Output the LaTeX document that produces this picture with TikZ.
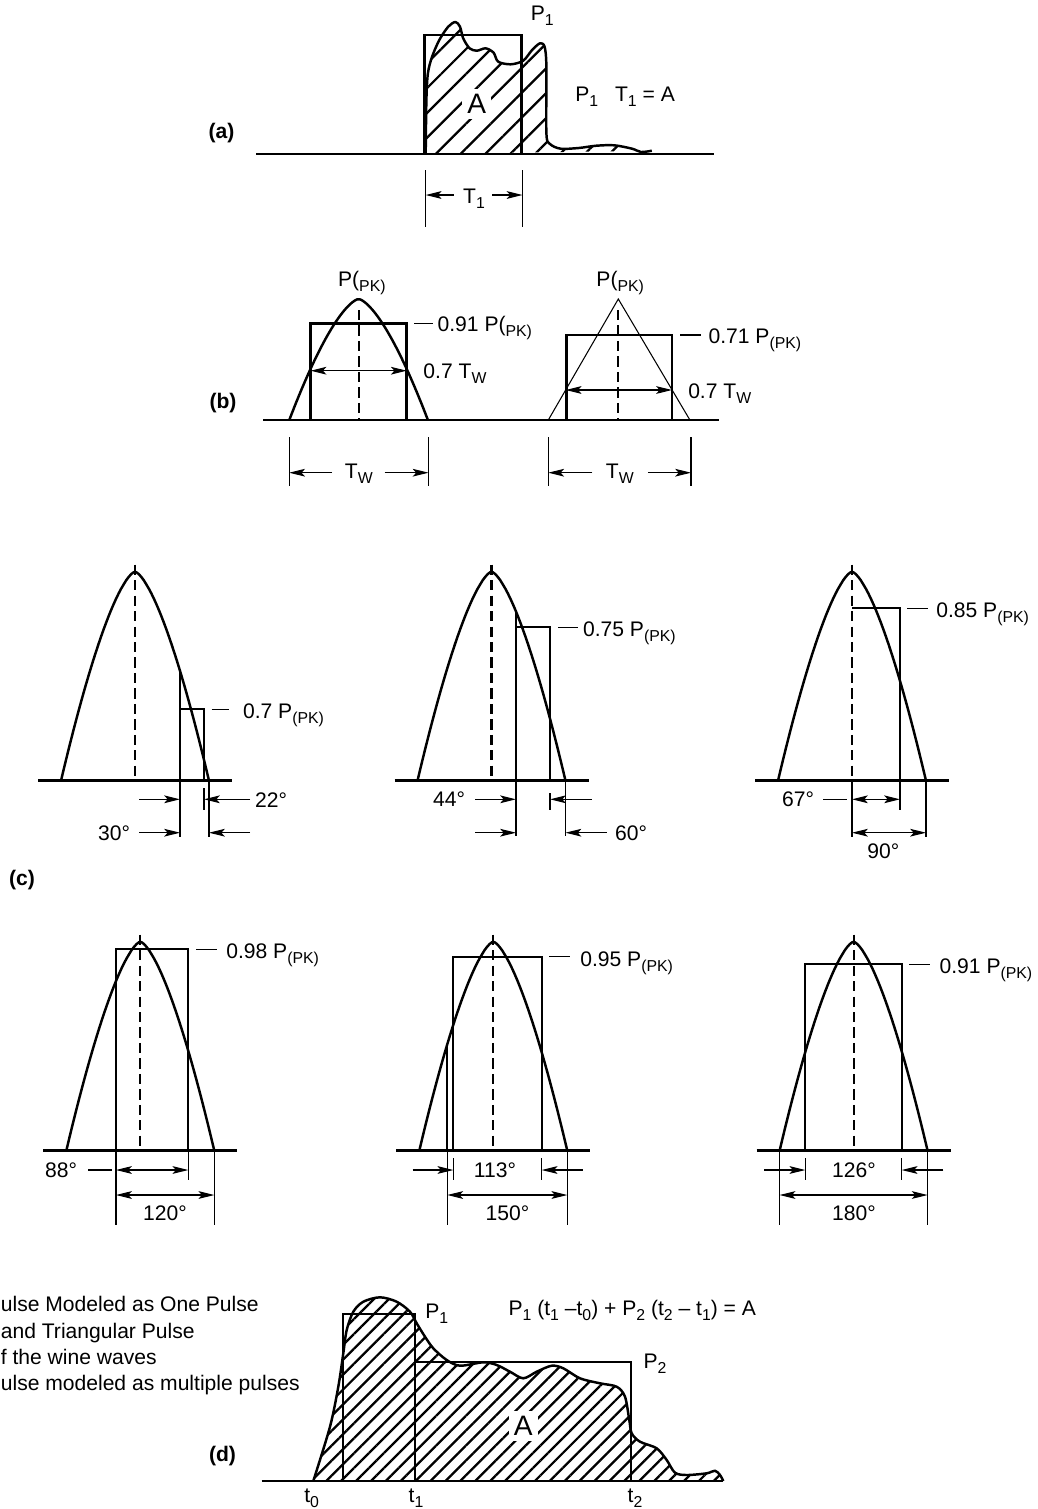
\documentclass[tikz,border=0pt]{standalone}
\usepackage{fontspec}
\setmainfont{Liberation Sans}
\usetikzlibrary{arrows.meta,patterns.meta}
\newcommand{\lo}[1]{\raisebox{-0.45ex}{\fontsize{9}{9}\selectfont #1}}

\begin{document}
\begin{tikzpicture}[x=0.02cm,y=-0.02cm,
    font=\fontsize{12}{14}\selectfont,
    >={Stealth[length=9pt,width=4.4pt,inset=2pt]},
    every node/.style={inner sep=0pt},
    axis/.style={line width=1.5pt},
    curve/.style={line width=1.4pt,line join=round},
    box/.style={line width=1pt},
    dim/.style={line width=0.6pt},
    centre/.style={line width=1.2pt,dash pattern=on 5.8pt off 3pt},
    hatch/.style={pattern={Lines[angle=45,distance=#1,line width=1.3pt]}},
    tag/.style={font=\fontsize{12}{14}\selectfont\bfseries},
    big/.style={font=\fontsize{16}{16}\selectfont,fill=white,inner sep=3pt}]
  \useasboundingbox (0,0) rectangle (1038,1509);

  % (a) one pulse and its equal-area rectangle
  \draw[curve,hatch=10pt] plot[smooth,tension=0.5] coordinates {(425.7,154) (426.4,100) (427.9,73.3) (432.1,56.7) (439.3,40) (448.2,26.7) (455.4,22) (460,26.7) (463.2,38.3) (469.6,48.3) (476.8,50.7) (485.7,48.3) (493.6,52.7) (498.2,61.7) (510.7,64.3) (523.2,60.7) (532.1,50) (540,43.3) (544.6,46.7) (546.4,66.7) (546.4,133.3) (550,144) (560.7,148.7) (578.6,148) (596.4,145.7) (614.3,145.3) (632.1,148.7) (641.1,152) (651.8,150.7)};
  \draw[axis] (256,154) -- (714.3,154);
  \draw[axis] (424.3,154) rectangle (521.4,35);
  \node[big] (areaA) at (476.8,104) {A};
  \node[tag] (tagA) at (221.4,133.3) {(a)};
  \node[anchor=base west] (peakA) at (530.4,20.7) {P\lo{1}};
  \node[anchor=base west] (eqA) at (575,101.7) {P\lo{1}\hspace{0.8em}T\lo{1} = A};
  \node[anchor=base] (widthA) at (474,203.3) {T\lo{1}};
  \draw[dim] (425.7,170) -- (425.7,226.7) (522.5,170) -- (522.5,226.7);
  \draw[dim,->] (453.6,195) -- (425.7,195);
  \draw[dim,->] (492,195) -- (522.5,195);

  % (b) parabolic and triangular pulse
  \draw[axis] (263.1,420) -- (718.6,420);
  \draw[curve] plot[domain=-1:1,samples=60] ({358.6+69.3*(\x)},{420-121*(1-abs(\x)^1.5)});
  \draw[axis] (310.6,420) rectangle (406.7,323.3);
  \draw[centre] (358.8,310) -- (358.8,420);
  \draw[dim,<->] (310.6,370.7) -- (406.7,370.7);
  \draw[dim] (414.3,323.3) -- (433.4,323.3);
  \node[anchor=base west] (pkL) at (337.8,286) {P(\lo{PK)}};
  \node[anchor=base west] (lvlL) at (437.3,331.7) {0.91 P(\lo{PK)}};
  \node[anchor=base west] (hwL) at (423.1,378.3) {0.7 T\lo{W}};
  \draw[line width=0.6pt] (548.3,420) -- (618.3,299) -- (689.9,420);
  \draw[axis] (566.2,420) rectangle (671.9,335);
  \draw[centre] (618.3,310) -- (618.3,420);
  \draw[dim,<->] (565.7,390) -- (671.9,390);
  \draw[dim] (680.3,335) -- (701.3,335);
  \node[anchor=base west] (pkR) at (596.1,286) {P(\lo{PK)}};
  \node[anchor=base west] (lvlR) at (708.2,343.3) {0.71 P\lo{(PK)}};
  \node[anchor=base west] (hwR) at (687.9,398.3) {0.7 T\lo{W}};
  \node[tag] (tagB) at (223,403.3) {(b)};
  \draw[dim] (289.2,437.3) -- (289.2,486) (428.5,437.3) -- (428.5,486) (548.3,437.3) -- (548.3,486) (691,437.3) -- (691,486);
  \node[anchor=base] (twL) at (358.8,478.3) {T\lo{W}};
  \node[anchor=base] (twR) at (619.8,478.3) {T\lo{W}};
  \draw[dim,->] (332,472.7) -- (289.2,472.7);
  \draw[dim,->] (384.5,472.7) -- (428.5,472.7);
  \draw[dim,->] (592.3,472.7) -- (548.3,472.7);
  \draw[dim,->] (647.8,472.7) -- (691,472.7);

  % (c) six sine pulses
  \foreach \c/\b in {135/780.7,491.5/780.7,852/780.7,140.3/1150.7,493.3/1150.7,853.6/1150.7}{
    \draw[axis] (\c-97,\b) -- (\c+97,\b);
    \draw[curve] plot[domain=-1:1,samples=60] ({\c+74*(\x)},{\b-209*(1-abs(\x)^1.5)});
    \draw[centre] (\c,\b-216) -- (\c,\b);
  }
  \node[tag] (tagC) at (22,880) {(c)};

  \draw[box] (180,670.8) -- (180,780.7);
  \draw[box] (180,709.3) -- (204,709.3) -- (204,780.7);
  \draw[dim] (211.7,709.3) -- (229.3,709.3);
  \node[anchor=base west] (lvlC1) at (242.7,718.8) {0.7 P\lo{(PK)}};
  \draw[dim] (180,780.7) -- (180,837) (204,788) -- (204,810) (209,780.7) -- (209,837);
  \draw[dim,->] (139.3,799.3) -- (180,799.3);
  \draw[dim,->] (250,799.3) -- (204,799.3);
  \draw[dim,->] (139.3,832.7) -- (180,832.7);
  \draw[dim,->] (250,832.7) -- (209,832.7);
  \node[anchor=base] (degC1a) at (271,807) {22°};
  \node[anchor=base] (degC1b) at (114,840) {30°};

  \draw[box] (516,611.5) -- (516,780.7);
  \draw[box] (516,627.3) -- (550,627.3) -- (550,780.7);
  \draw[dim] (558.3,627.3) -- (578.3,627.3);
  \node[anchor=base west] (lvlC2) at (582.7,636.8) {0.75 P\lo{(PK)}};
  \draw[dim] (516,780.7) -- (516,836) (550,793) -- (550,810) (565.5,780.7) -- (565.5,836);
  \draw[dim,->] (475,799.3) -- (516,799.3);
  \draw[dim,->] (591.7,799.3) -- (550,799.3);
  \draw[dim,->] (475,832.7) -- (516,832.7);
  \draw[dim,->] (606.7,832.7) -- (565.5,832.7);
  \node[anchor=base] (degC2a) at (449,806.8) {44°};
  \node[anchor=base] (degC2b) at (631,840.2) {60°};

  \draw[box] (852,608.3) -- (900,608.3) -- (900,780.7);
  \draw[dim] (907.3,608.3) -- (928.3,608.3);
  \node[anchor=base west] (lvlC3) at (936,617.8) {0.85 P\lo{(PK)}};
  \draw[dim] (852,780.7) -- (852,837) (900,780.7) -- (900,810) (926,780.7) -- (926,837);
  \draw[dim,<->] (852,799.3) -- (900,799.3);
  \draw[dim,<->] (852,832.7) -- (926,832.7);
  \draw[dim] (823.3,799.3) -- (846.7,799.3);
  \node[anchor=base] (degC3a) at (798,806.8) {67°};
  \node[anchor=base] (degC3b) at (883.3,858.3) {90°};

  \draw[box] (116,1150.7) -- (116,949.3) -- (188.3,949.3) -- (188.3,1150.7);
  \draw[dim] (196,949.3) -- (216.7,949.3);
  \node[anchor=base west] (lvlC4) at (226,958.8) {0.98 P\lo{(PK)}};
  \draw[dim] (116,1150.7) -- (116,1225) (188.3,1150.7) -- (188.3,1180) (214.3,1150.7) -- (214.3,1225);
  \draw[dim,<->] (116,1170) -- (188.3,1170);
  \draw[dim,<->] (116,1195) -- (214.3,1195);
  \draw[dim] (88.3,1170) -- (111.7,1170);
  \node[anchor=base] (degC4a) at (61,1177.5) {88°};
  \node[anchor=base] (degC4b) at (165,1220) {120°};

  \draw[box] (447.3,1044) -- (447.3,1150.7);
  \draw[box] (453.3,1150.7) -- (453.3,956.7) -- (541.7,956.7) -- (541.7,1150.7);
  \draw[dim] (549.3,956.7) -- (570,956.7);
  \node[anchor=base west] (lvlC5) at (580,966.2) {0.95 P\lo{(PK)}};
  \draw[dim] (447.3,1150.7) -- (447.3,1225) (453.3,1158) -- (453.3,1180) (541.7,1158) -- (541.7,1180) (567.3,1150.7) -- (567.3,1225);
  \draw[dim,->] (412.7,1170) -- (453.3,1170);
  \draw[dim,->] (582.7,1170) -- (541.7,1170);
  \draw[dim,<->] (447.3,1195) -- (567.3,1195);
  \node[anchor=base] (degC5a) at (495,1177.5) {113°};
  \node[anchor=base] (degC5b) at (507.5,1220) {150°};

  \draw[box] (805.3,1150.7) -- (805.3,964.3) -- (901.7,964.3) -- (901.7,1150.7);
  \draw[dim] (909.3,964.3) -- (930,964.3);
  \node[anchor=base west] (lvlC6) at (939.3,973.8) {0.91 P\lo{(PK)}};
  \draw[dim] (779.6,1150.7) -- (779.6,1225) (805.3,1158) -- (805.3,1180) (901.7,1158) -- (901.7,1180) (927.6,1150.7) -- (927.6,1225);
  \draw[dim,->] (764,1170) -- (805.3,1170);
  \draw[dim,->] (943.3,1170) -- (901.7,1170);
  \draw[dim,<->] (779.6,1195) -- (927.6,1195);
  \node[anchor=base] (degC6a) at (854,1177.5) {126°};
  \node[anchor=base] (degC6b) at (854,1220) {180°};

  % (d) pulse modeled as two pulses
  \draw[curve,hatch=6pt] plot[smooth,tension=0.5] coordinates {(313.3,1481) (330,1426.7) (338.3,1386.7) (343.3,1353.3) (346.7,1330) (353.3,1311.7) (363.3,1301.7) (380,1297.3) (396.7,1301.7) (410,1311.7) (416.7,1323.3) (425,1336.7) (433.3,1348.3) (446.7,1360) (460,1365.7) (483.3,1362.3) (496.7,1365) (510,1371.7) (523.3,1378.3) (536.7,1371.7) (551.7,1365.7) (563.3,1368.3) (580,1378.3) (600,1383.3) (616.7,1386.7) (625,1396.7) (629.3,1420) (631.7,1433.3) (640,1441.7) (656.7,1448.3) (666.7,1460) (675,1472.7) (686.7,1475) (706.7,1473.3) (715,1470.7) (720,1475) (723.3,1481)};
  \draw[axis] (261.7,1481) -- (723.3,1481);
  \draw[box] (342.7,1481) -- (342.7,1314) -- (415,1314) -- (415,1481);
  \draw[box] (415,1362.3) -- (631,1362.3) -- (631,1481);
  \node[big] (areaD) at (523.3,1426) {A};
  \node[tag] (tagD) at (222.5,1455.7) {(d)};
  \node[anchor=base west] (p1D) at (425,1318.3) {P\lo{1}};
  \node[anchor=base west] (p2D) at (643.3,1368.3) {P\lo{2}};
  \node[anchor=base west] (eqD) at (508.3,1315) {P\lo{1} (t\lo{1} –t\lo{0}) + P\lo{2} (t\lo{2} – t\lo{1}) = A};
  \node[anchor=base] (t0) at (311.7,1502) {t\lo{0}};
  \node[anchor=base] (t1) at (416,1502) {t\lo{1}};
  \node[anchor=base] (t2) at (635,1502) {t\lo{2}};
  \node[anchor=base west] (noteD1) at (0.5,1311.7) {ulse Modeled as One Pulse};
  \node[anchor=base west] (noteD2) at (0.5,1338.3) {and Triangular Pulse};
  \node[anchor=base west] (noteD3) at (0.5,1364) {f the wine waves};
  \node[anchor=base west] (noteD4) at (0.5,1390.7) {ulse modeled as multiple pulses};
\end{tikzpicture}
\end{document}
